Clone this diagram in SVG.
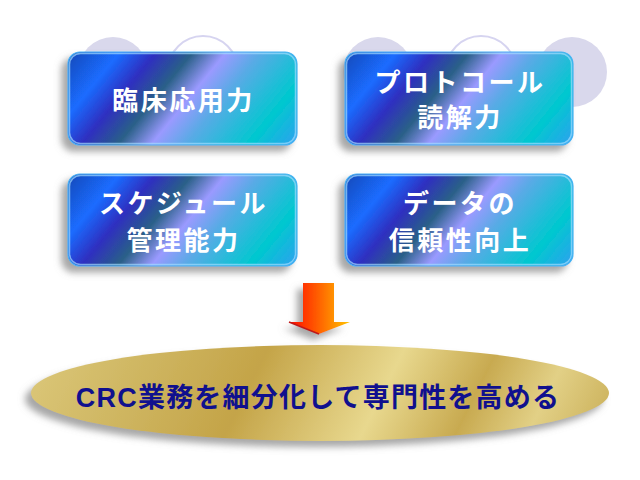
<svg xmlns="http://www.w3.org/2000/svg" xmlns:xlink="http://www.w3.org/1999/xlink" width="640" height="480" viewBox="0 0 640 480">
<defs>
<style>
.circ{fill:#d9d8ec}
.ring{fill:#ffffff;stroke:#d6d4f0;stroke-width:2}
.box{fill:url(#boxg);stroke:#46b2f4;stroke-width:1.2}
.hl{fill:none;stroke:#9fdcff;stroke-width:1.5;opacity:0.7}
.bt{font-family:"Noto Sans CJK JP","Noto Sans CJK SC",sans-serif;font-weight:bold;font-size:26px;fill:#ffffff;text-anchor:middle;letter-spacing:2.5px}
.et{font-family:"Liberation Sans","Noto Sans CJK JP",sans-serif;font-weight:bold;font-size:27px;fill:#10108e;text-anchor:middle;letter-spacing:1.2px}
</style>
<linearGradient id="boxg" x1="0" y1="0" x2="1.2" y2="0.396">
<stop offset="0" stop-color="#1848b8"/>
<stop offset="0.17" stop-color="#1a6cff"/>
<stop offset="0.29" stop-color="#2f2fc0"/>
<stop offset="0.41" stop-color="#2a6088"/>
<stop offset="0.52" stop-color="#9a9aff"/>
<stop offset="0.63" stop-color="#5aaae6"/>
<stop offset="0.84" stop-color="#00c8cf"/>
<stop offset="1" stop-color="#30a0f0"/>
</linearGradient>
<linearGradient id="goldg" gradientUnits="userSpaceOnUse" x1="32" y1="345" x2="608" y2="633">
<stop offset="0" stop-color="#dcc87a"/>
<stop offset="0.15" stop-color="#d0b864"/>
<stop offset="0.33" stop-color="#c4a448"/>
<stop offset="0.52" stop-color="#e8d88e"/>
<stop offset="0.65" stop-color="#c8aa50"/>
<stop offset="0.75" stop-color="#e2d086"/>
<stop offset="0.85" stop-color="#ccb25c"/>
<stop offset="1" stop-color="#d8c070"/>
</linearGradient>
<linearGradient id="arrg" gradientUnits="userSpaceOnUse" x1="289" y1="0" x2="350" y2="0">
<stop offset="0" stop-color="#ff0a00"/>
<stop offset="0.45" stop-color="#ff5a00"/>
<stop offset="1" stop-color="#ffc400"/>
</linearGradient>
<filter id="sh" x="-20%" y="-20%" width="140%" height="150%">
<feGaussianBlur in="SourceAlpha" stdDeviation="3.5"/>
<feOffset dx="-6" dy="6" result="b"/>
<feFlood flood-color="#8a8a8a" flood-opacity="0.75"/>
<feComposite in2="b" operator="in" result="s"/>
<feMerge><feMergeNode in="s"/><feMergeNode in="SourceGraphic"/></feMerge>
</filter>
</defs>
<rect width="640" height="480" fill="#ffffff"/>

<g id="deco">
<circle class="circ" cx="113" cy="72" r="35"/>
<circle class="ring" cx="203" cy="71" r="35"/>
<circle class="circ" cx="378" cy="72" r="35"/>
<circle class="ring" cx="481" cy="71" r="35"/>
<circle class="circ" cx="572" cy="72" r="35"/>
</g>

<g id="node1">
<rect class="box" x="68" y="52" width="229" height="93" rx="12" filter="url(#sh)"/>
<rect class="hl" x="69.5" y="53.5" width="226" height="90" rx="11"/>
<text class="bt" x="183.5" y="110">臨床応用力</text>
</g>

<g id="node2">
<rect class="box" x="345" y="52" width="228" height="93" rx="12" filter="url(#sh)"/>
<rect class="hl" x="346.5" y="53.5" width="225" height="90" rx="11"/>
<text class="bt" x="460" y="92">プロトコール</text>
<text class="bt" x="460" y="127">読解力</text>
</g>

<g id="node3">
<rect class="box" x="68" y="174" width="229" height="92" rx="12" filter="url(#sh)"/>
<rect class="hl" x="69.5" y="175.5" width="226" height="89" rx="11"/>
<text class="bt" x="183.5" y="213">スケジュール</text>
<text class="bt" x="183.5" y="250">管理能力</text>
</g>

<g id="node4">
<rect class="box" x="345" y="174" width="228" height="92" rx="12" filter="url(#sh)"/>
<rect class="hl" x="346.5" y="175.5" width="225" height="89" rx="11"/>
<text class="bt" x="460" y="213">データの</text>
<text class="bt" x="460" y="250">信頼性向上</text>
</g>

<g id="connectors">
<polygon points="303,283 334,283 334,322 350,322 319,334 289,322 303,322" fill="url(#arrg)" filter="url(#sh)"/>
<polyline points="289,322 319,334" fill="none" stroke="#c01818" stroke-width="1.5"/>
</g>

<g id="goal">
<ellipse cx="320" cy="393" rx="289" ry="48" fill="url(#goldg)" filter="url(#sh)"/>
<text class="et" x="318" y="407">CRC業務を細分化して専門性を高める</text>
</g>
</svg>
